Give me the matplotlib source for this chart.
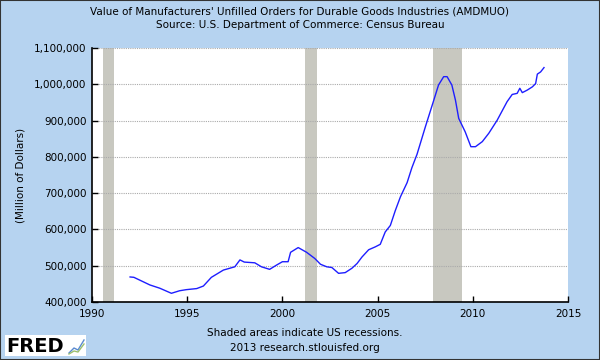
import matplotlib
matplotlib.use('Agg')
import matplotlib.pyplot as plt
from matplotlib.patches import Rectangle
from matplotlib.ticker import FuncFormatter, MultipleLocator

# Data (decimal year, millions of dollars)
years = [1992.00, 1992.20, 1992.60, 1993.04, 1993.56, 1994.17, 1994.60, 1994.95,
         1995.50, 1995.85, 1996.27, 1996.90, 1997.50, 1997.77, 1998.00, 1998.55,
         1998.90, 1999.33, 1999.70, 2000.00, 2000.30, 2000.43, 2000.83, 2001.27,
         2001.70, 2002.00, 2002.33, 2002.60, 2002.95, 2003.30, 2003.65, 2003.92,
         2004.18, 2004.53, 2004.88, 2005.14, 2005.40, 2005.67, 2005.93, 2006.20,
         2006.55, 2006.80, 2007.07, 2007.51, 2007.95, 2008.20, 2008.47, 2008.65,
         2008.90, 2009.09, 2009.26, 2009.60, 2009.90, 2010.14, 2010.50, 2010.84,
         2011.28, 2011.80, 2012.07, 2012.33, 2012.47, 2012.60, 2012.86, 2013.13,
         2013.30, 2013.39, 2013.56, 2013.74]
orders_k = [469, 468, 458, 447, 438, 424, 431, 434,
            437, 444, 468, 488, 497, 516, 510, 508,
            497, 490, 502, 511, 511, 537, 550, 537,
            520, 504, 497, 495, 479, 481, 493, 506,
            524, 544, 552, 559, 593, 611, 652, 690,
            729, 770, 807, 883, 956, 998, 1021, 1021,
            998, 956, 906, 869, 828, 828, 842, 865,
            901, 952, 972, 975, 989, 977, 984, 993,
            1002, 1028, 1034, 1046]
orders = [v * 1000 for v in orders_k]

recession_start = [1990.58, 2001.17, 2007.92]
recession_end = [1991.17, 2001.83, 2009.42]

bg = '#B6D3F0'
fig = plt.figure(figsize=(6, 3.6), dpi=100, facecolor=bg)
ax = fig.add_axes([92/600, 1 - 302/360, 476/600, 254/360])
ax.set_facecolor('white')

for s, e in zip(recession_start, recession_end):
    ax.axvspan(s, e, color='#C8C8C0', lw=0, zorder=1)

ax.set_xlim(1990, 2015)
ax.set_ylim(400000, 1100000)
ax.yaxis.set_major_locator(MultipleLocator(100000))
ax.xaxis.set_major_locator(MultipleLocator(5))
ax.yaxis.set_major_formatter(FuncFormatter(lambda v, p: f'{int(v):,}'))
ax.grid(axis='y', color='#AAAAAA', linestyle=(0, (1, 1)), lw=0.8, zorder=2)
ax.grid(axis='x', visible=False)

ax.plot(years, orders, color='#1E1EFF', lw=1.0, zorder=3)

for side in ['top', 'right']:
    ax.spines[side].set_visible(False)
for side in ['left', 'bottom']:
    ax.spines[side].set_color('black')
    ax.spines[side].set_linewidth(1.2)
ax.tick_params(direction='in', length=4, width=1, labelsize=7.5, colors='black')
ax.tick_params(axis='y', pad=4)
ax.tick_params(axis='x', pad=5)
ax.set_ylabel('(Million of Dollars)', fontsize=7.5, labelpad=6)

fig.text(0.5, 1 - 11/360, "Value of Manufacturers' Unfilled Orders for Durable Goods Industries (AMDMUO)",
         ha='center', va='center', fontsize=7.5)
fig.text(0.5, 1 - 25/360, 'Source: U.S. Department of Commerce: Census Bureau',
         ha='center', va='center', fontsize=7.5)
fig.text(305/600, 1 - 333/360, 'Shaded areas indicate US recessions.',
         ha='center', va='center', fontsize=7.5)
fig.text(305/600, 1 - 348/360, '2013 research.stlouisfed.org',
         ha='center', va='center', fontsize=7.5)

# FRED logo
fig.patches.append(Rectangle((5/600, 1 - 356/360), 81/600, 21/360,
                             transform=fig.transFigure, facecolor='white',
                             edgecolor='none'))
fig.text(6/600, 1 - 346/360, 'FRED', ha='left', va='center', fontsize=14,
         fontweight='bold', color='black')
fig.lines.append(plt.Line2D([69/600, 74/600, 78/600, 84/600],
                            [1 - 353/360, 1 - 348/360, 1 - 350/360, 1 - 340/360],
                            transform=fig.transFigure, color='#5A8AD0', lw=1))
fig.lines.append(plt.Line2D([69/600, 74/600, 78/600, 84/600],
                            [1 - 354/360, 1 - 351/360, 1 - 352/360, 1 - 344/360],
                            transform=fig.transFigure, color='#9CC070', lw=1))

# outer border
fig.patches.append(Rectangle((0, 0), 1, 1, transform=fig.transFigure,
                             facecolor='none', edgecolor='#333333', lw=1.5))

fig.savefig('out.png', dpi=100, facecolor=bg)
